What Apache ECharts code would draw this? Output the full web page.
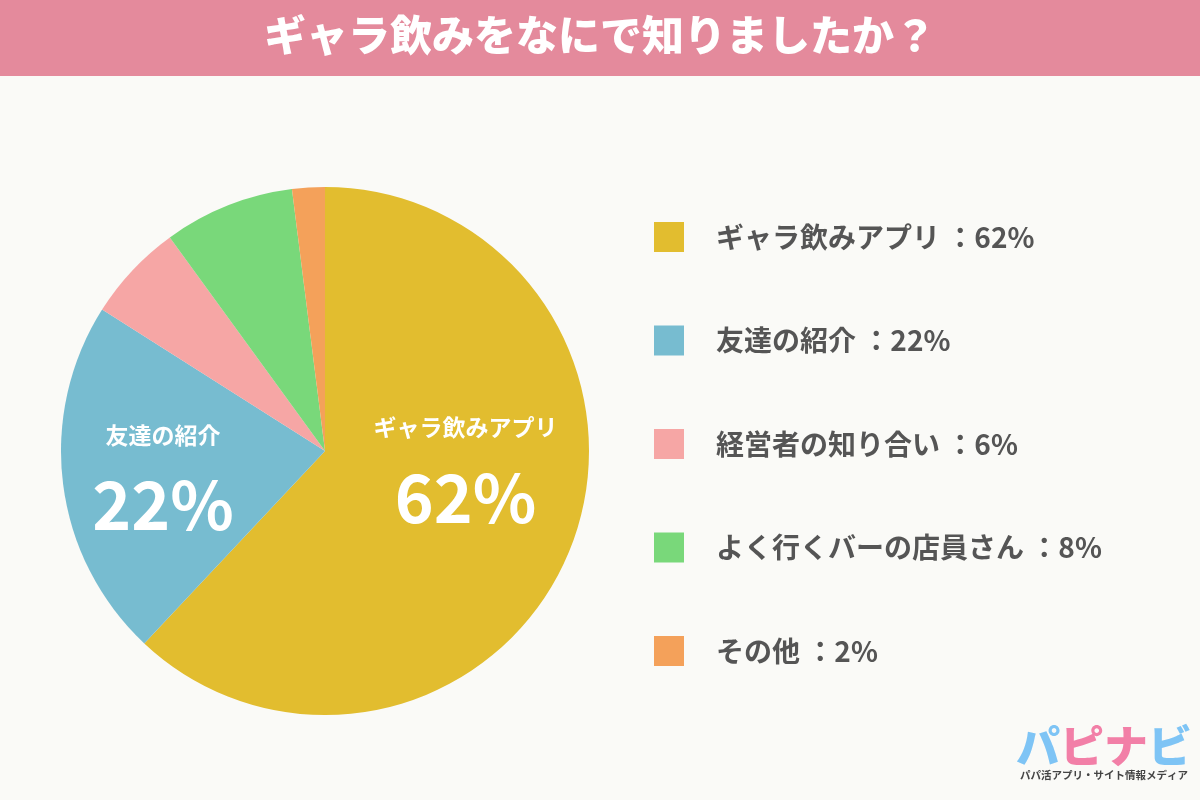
<!DOCTYPE html>
<html>
<head>
<meta charset="utf-8">
<script src="https://cdn.jsdelivr.net/npm/echarts@6/dist/echarts.min.js"></script>
<style>
  html, body { margin: 0; padding: 0; background: #fafaf7; }
  #chart { width: 1200px; height: 800px; }
</style>
</head>
<body>
<div id="chart"></div>
<script>
  const categories = ['ギャラ飲みアプリ', '友達の紹介', '経営者の知り合い', 'よく行くバーの店員さん', 'その他'];
  const values = [62, 22, 6, 8, 2];
  const colors = ['#e2bd2f', '#77bcd0', '#f6a6a5', '#79d87a', '#f4a15a'];
  // only the two big slices carry a label inside
  const labelShown = [true, true, false, false, false];
  const labelShift = [[15, -23], [-28, 17], [0, 0], [0, 0], [0, 0]];

  const font = '"Noto Sans CJK JP", "Noto Sans", sans-serif';
  const chart = echarts.init(document.getElementById('chart'));

  chart.setOption({
    backgroundColor: '#fafaf7',
    color: colors,
    animation: false,
    title: {
      text: 'ギャラ飲みをなにで知りましたか？',
      left: 'center',
      top: 9,
      textStyle: { color: '#fff', fontSize: 42, fontWeight: 900, fontFamily: font }
    },
    graphic: [
      { type: 'rect', z: -1, shape: { x: 0, y: 0, width: 1200, height: 76 }, style: { fill: '#e48a9c' } },
      {
        type: 'text', left: 1016, top: 724,
        style: {
          text: '{b|パ}{p|ピ}{p|ナ}{b|ビ}',
          rich: {
            b: { fontSize: 44, fontWeight: 900, fontFamily: font, fill: '#7ec4f5' },
            p: { fontSize: 44, fontWeight: 900, fontFamily: font, fill: '#f27fa7' }
          }
        }
      },
      {
        type: 'text', left: 1020, top: 770,
        style: { text: 'パパ活アプリ・サイト情報メディア', fontSize: 10.5, fontWeight: 'bold', fontFamily: font, fill: '#444' }
      }
    ],
    legend: {
      orient: 'vertical',
      left: 649,
      top: 217,
      itemWidth: 30,
      itemHeight: 30,
      itemGap: 73.5,
      icon: 'rect',
      formatter: function (name) {
        const i = categories.indexOf(name);
        return name + ' ：' + values[i] + '%';
      },
      textStyle: { color: '#555', fontSize: 28, fontWeight: 'bold', fontFamily: font, padding: [0, 0, 0, 27] }
    },
    series: [
      {
        type: 'pie',
        center: [325, 451],
        radius: [0, 264],
        startAngle: 90,
        clockwise: true,
        label: {
          position: 'inside',
          formatter: '{n|{b}}\n{v|{c}%}',
          rich: {
            n: { color: '#fff', fontSize: 23, fontWeight: 'bold', fontFamily: font, lineHeight: 40 },
            v: { color: '#fff', fontSize: 66, fontWeight: 'bold', fontFamily: font, lineHeight: 100 }
          }
        },
        labelLayout: function (p) {
          const s = labelShift[p.dataIndex];
          return { dx: s[0], dy: s[1] };
        },
        labelLine: { show: false },
        emphasis: { disabled: true },
        data: categories.map(function (c, i) {
          return { name: c, value: values[i], label: { show: labelShown[i] } };
        })
      }
    ]
  });
</script>
</body>
</html>
